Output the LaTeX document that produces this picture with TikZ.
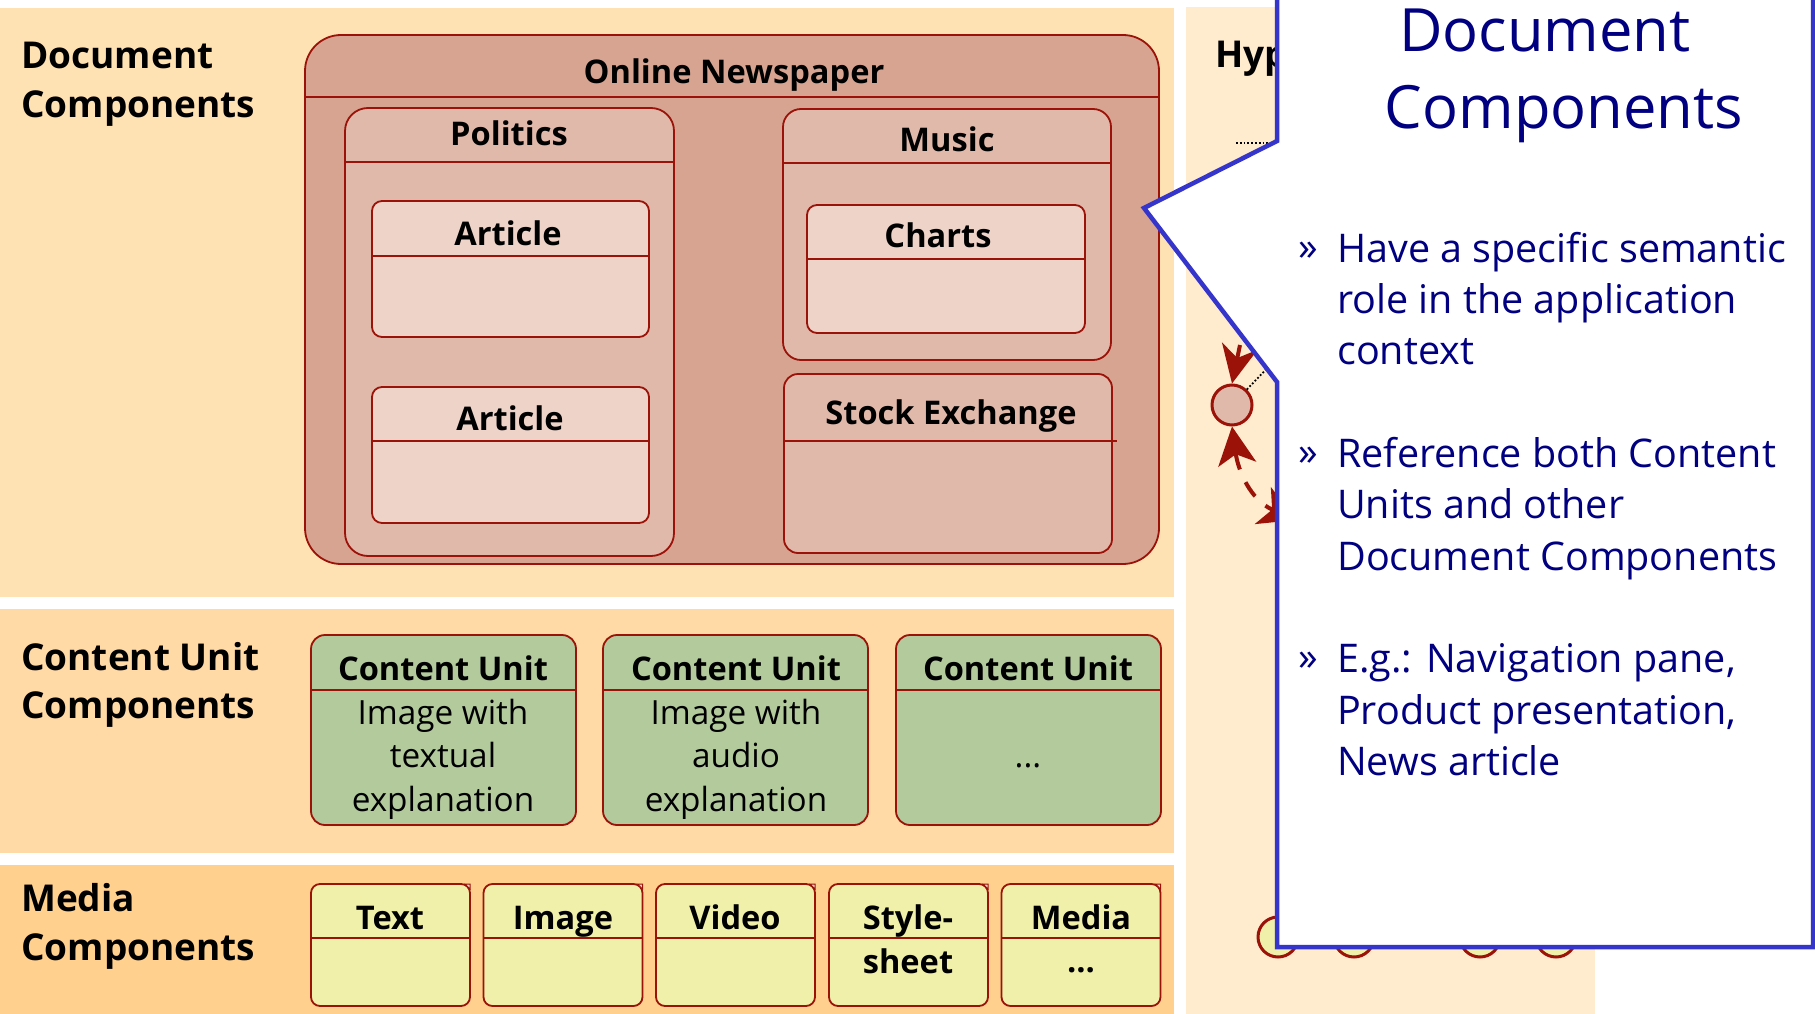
\documentclass[tikz,border=0pt]{standalone}
\usepackage{fontspec}
\setmainfont{Open Sans}
\usetikzlibrary{arrows.meta}
\definecolor{panelA}{HTML}{FFE2B4}
\definecolor{panelB}{HTML}{FFD9A6}
\definecolor{panelC}{HTML}{FFD08E}
\definecolor{panelD}{HTML}{FFEBCD}
\definecolor{redline}{HTML}{9B1208}
\definecolor{fillOnline}{HTML}{D7A491}
\definecolor{fillPol}{HTML}{E1B9AB}
\definecolor{fillArt}{HTML}{EED3C9}
\definecolor{fillGreen}{HTML}{B3CA9D}
\definecolor{fillYellow}{HTML}{F0F0AA}
\definecolor{calloutblue}{HTML}{3535CC}
\definecolor{navytext}{HTML}{000080}
\tikzset{
  boxline/.style={draw=redline,line width=1.8pt},
  divline/.style={draw=redline,line width=1.6pt},
  heading/.style={anchor=base west,inner sep=0pt,font=\fontsize{37}{37}\selectfont\bfseries},
  boxtitle/.style={anchor=base,inner sep=0pt,font=\fontsize{32.6}{33}\selectfont\bfseries},
  boxbody/.style={anchor=base,inner sep=0pt,font=\fontsize{33.3}{34}\selectfont},
  calltitle/.style={anchor=base,inner sep=0pt,text=navytext,font=\fontsize{59.7}{60}\selectfont},
  callbody/.style={anchor=base west,inner sep=0pt,text=navytext,font=\fontsize{39.5}{40}\selectfont},
  callbullet/.style={anchor=base west,inner sep=0pt,text=navytext,font=\fontsize{39.5}{40}\selectfont},
  statecirc/.style={circle,draw=redline,line width=3pt,minimum size=40pt,inner sep=0pt},
  flowarrow/.style={draw=redline,line width=4pt},
}
\newcommand{\umlbox}[7]{%
  \path[fill=#7,boxline,rounded corners=#6pt] (#1,#2) rectangle (#3,#4);
  \draw[divline] (#1,#5) -- (#3,#5);
}
\newcommand{\umlcorner}[2]{%
  \draw[draw=redline,line width=1pt,fill=fillArt] (#1-5,#2) -- (#1,#2) -- (#1,#2+5) -- cycle;
}
\begin{document}
\begin{tikzpicture}[x=1pt,y=-1pt]
\useasboundingbox (0,0) rectangle (1815,1014);
\fill[white] (0,0) rectangle (1815,1014);
% panels
\fill[panelA] (0,8) rectangle (1174,597);
\fill[panelB] (0,609) rectangle (1174,853);
\fill[panelC] (0,865) rectangle (1174,1014);
\fill[panelD] (1186,7) rectangle (1595,1014);
% panel labels
\node[heading] (h1a) at (21,69) {Document};
\node[heading] (h1b) at (21,118) {Components};
\node[heading] (h2a) at (21,670) {Content Unit};
\node[heading] (h2b) at (21,718) {Components};
\node[heading] (h3a) at (21,911) {Media};
\node[heading] (h3b) at (21,960) {Components};
\node[heading] (hyp) at (1215,68) {Hyp};
% online newspaper
\umlbox{305}{35}{1159}{564}{97}{36}{fillOnline}
\node[boxtitle] (tOnline) at (734,84) {Online Newspaper};
\umlbox{345}{108}{674}{556}{162}{23}{fillPol}
\node[boxtitle] (tPol) at (509,146) {Politics};
\umlbox{372}{201}{649}{337}{256}{10}{fillArt}
\node[boxtitle] (tArt1) at (508,245) {Article};
\umlbox{372}{387}{649}{523}{441}{10}{fillArt}
\node[boxtitle] (tArt2) at (510,430) {Article};
\umlbox{783}{109}{1111}{360}{163}{18}{fillPol}
\node[boxtitle] (tMusic) at (947,151) {Music};
\umlbox{807}{205}{1085}{333}{259}{10}{fillArt}
\node[boxtitle] (tCharts) at (938,247) {Charts};
\umlbox{784}{374}{1112}{553}{441}{14}{fillPol}
\draw[divline] (1112,441) -- (1117,441);
\node[boxtitle] (tStock) at (951,424) {Stock Exchange};
% content units
\umlbox{311}{635}{576}{825}{690}{14}{fillGreen}
\umlbox{603}{635}{868}{825}{690}{14}{fillGreen}
\umlbox{896}{635}{1161}{825}{690}{14}{fillGreen}
\node[boxtitle] (tCu1) at (443,680) {Content Unit};
\node[boxtitle] (tCu2) at (736,680) {Content Unit};
\node[boxtitle] (tCu3) at (1028,680) {Content Unit};
\node[boxbody] (b1a) at (443,724) {Image with};
\node[boxbody] (b1b) at (443,767) {textual};
\node[boxbody] (b1c) at (443,811) {explanation};
\node[boxbody] (b2a) at (736,724) {Image with};
\node[boxbody] (b2b) at (736,767) {audio};
\node[boxbody] (b2c) at (736,811) {explanation};
\node[boxbody] (b3a) at (1028,767) {...};
% media
\umlbox{311}{884}{470}{1006}{938}{9}{fillYellow}
\umlbox{483.5}{884}{642.5}{1006}{938}{9}{fillYellow}
\umlbox{656}{884}{815}{1006}{938}{9}{fillYellow}
\umlbox{829}{884}{988}{1006}{938}{9}{fillYellow}
\umlbox{1001.5}{884}{1160.5}{1006}{938}{9}{fillYellow}
\umlcorner{470}{884}
\umlcorner{642.5}{884}
\umlcorner{815}{884}
\umlcorner{988}{884}
\umlcorner{1160.5}{884}
\node[boxtitle] (mText) at (390,929) {Text};
\node[boxtitle] (mImage) at (563,929) {Image};
\node[boxtitle] (mVideo) at (735,929) {Video};
\node[boxtitle] (mStyleA) at (908,929) {Style-};
\node[boxtitle] (mStyleB) at (908,973) {sheet};
\node[boxtitle] (mMediaA) at (1081,929) {Media};
\node[boxtitle] (mMediaB) at (1081,972) {...};
% right panel elements
\node[statecirc,fill=fillPol] (state) at (1232,405) {};
\node[statecirc,fill=fillYellow] (s1) at (1278,937) {};
\node[statecirc,fill=fillYellow] (s2) at (1354,937) {};
\node[statecirc,fill=fillYellow] (s3) at (1480,937) {};
\node[statecirc,fill=fillYellow] (s4) at (1556,937) {};
\coordinate (dotA) at (1236,143);
\coordinate (dotB) at (1280,143);
\coordinate (dotC) at (1275,360);
\coordinate (arrA) at (1240,345);
\coordinate (arrB) at (1296,520);
\draw[line width=1.8pt,dotted] (dotA) -- (dotB);
\draw[line width=1.8pt,dotted] (state) -- (dotC);
\draw[flowarrow,-{Stealth[length=38pt,width=36pt,inset=12pt]}] (arrA) -- (state.north);
\draw[flowarrow,dash pattern=on 17pt off 14pt,{Stealth[length=38pt,width=38pt,inset=10pt]}-{Stealth[length=36pt,width=40pt,inset=10pt]}] (state.south) .. controls (1238,470) and (1250,500) .. (arrB);
% callout
\path[fill=white,draw=calloutblue,line width=4.5pt,miter limit=10] (1277,-10) -- (1277,141) -- (1144,208) -- (1277,382) -- (1277,947) -- (1813,947) -- (1813,-10) -- cycle;
\node[calltitle] (ctA) at (1545,52) {Document};
\node[calltitle] (ctB) at (1564,129) {Components};
\node[callbullet] (bu1) at (1298,260) {»};
\node[callbody] (c1a) at (1337,262) {Have a specific semantic};
\node[callbody] (c1b) at (1337,313) {role in the application};
\node[callbody] (c1c) at (1337,364) {context};
\node[callbullet] (bu2) at (1298,465) {»};
\node[callbody] (c2a) at (1337,467) {Reference both Content};
\node[callbody] (c2b) at (1337,518) {Units and other};
\node[callbody] (c2c) at (1337,570) {Document Components};
\node[callbullet] (bu3) at (1298,670) {»};
\node[callbody] (c3a) at (1337,672) {E.g.: Navigation pane,};
\node[callbody] (c3b) at (1337,724) {Product presentation,};
\node[callbody] (c3c) at (1337,775) {News article};
\end{tikzpicture}
\end{document}
